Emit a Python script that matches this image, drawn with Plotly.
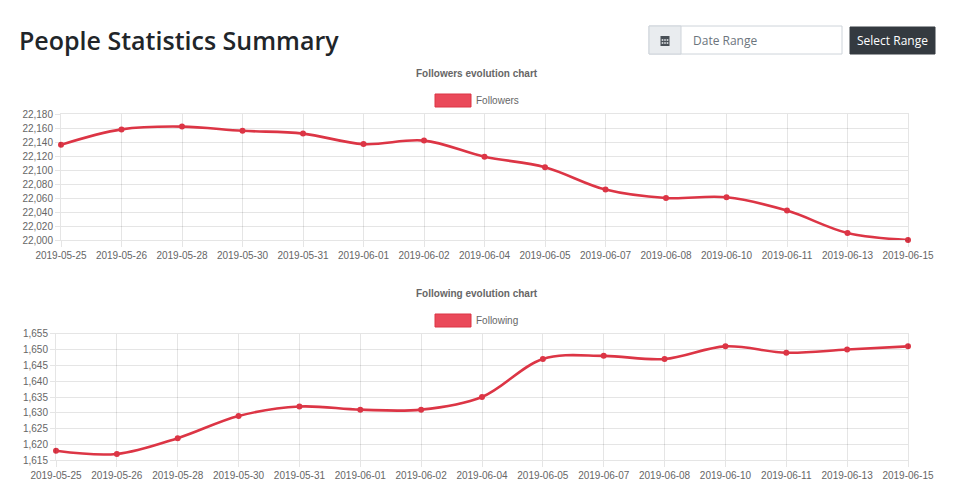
import plotly.graph_objects as go

dates = ["2019-05-25", "2019-05-26", "2019-05-28", "2019-05-30", "2019-05-31",
         "2019-06-01", "2019-06-02", "2019-06-04", "2019-06-05", "2019-06-07",
         "2019-06-08", "2019-06-10", "2019-06-11", "2019-06-13", "2019-06-15"]
followers = [22136, 22158, 22162, 22156, 22152, 22137, 22142, 22119, 22104,
             22072, 22060, 22061, 22042, 22010, 22000]
following = [1618, 1617, 1622, 1629, 1632, 1631, 1631, 1635, 1647, 1648,
             1647, 1651, 1649, 1650, 1651]

W, H = 960, 502
OFF = 8  # page body margin shifts the figure by this much
RED = "#dc3545"
GRID = "rgba(0,0,0,0.1)"
TXT = "#666666"


def px(x):
    return (x - OFF) / W


def py(y):
    return 1 - (y - OFF) / H


fig = go.Figure()
fig.add_trace(go.Scatter(x=dates, y=followers, mode="lines+markers", name="Followers",
                         line=dict(color=RED, width=2.6, shape="spline", smoothing=1.0),
                         marker=dict(color=RED, size=6), cliponaxis=False,
                         xaxis="x", yaxis="y", showlegend=False))
fig.add_trace(go.Scatter(x=dates, y=following, mode="lines+markers", name="Following",
                         line=dict(color=RED, width=2.6, shape="spline", smoothing=1.0),
                         marker=dict(color=RED, size=6), cliponaxis=False,
                         xaxis="x2", yaxis="y2", showlegend=False))

axis_font = dict(family="Liberation Sans, Arial", size=10, color=TXT)
xcommon = dict(type="category", range=[0, len(dates) - 1], showgrid=True, gridcolor=GRID,
               ticks="outside", ticklen=6, tickcolor=GRID, showline=True, linecolor=GRID,
               mirror=True, tickfont=axis_font, zeroline=False, fixedrange=True,
               automargin=False)
ycommon = dict(showgrid=True, gridcolor=GRID, ticks="outside", ticklen=5, tickcolor=GRID,
               showline=True, linecolor=GRID, mirror=True, tickfont=axis_font,
               tickformat=",d", zeroline=False, fixedrange=True, automargin=False)

fig.update_layout(
    width=W, height=H, margin=dict(l=0, r=0, t=0, b=0, autoexpand=False),
    paper_bgcolor="white", plot_bgcolor="white",
    xaxis=dict(xcommon, domain=[px(61), px(908)], anchor="y"),
    yaxis=dict(ycommon, domain=[py(240), py(114)], range=[22000, 22180], dtick=20, anchor="x"),
    xaxis2=dict(xcommon, domain=[px(56), px(908)], anchor="y2"),
    yaxis2=dict(ycommon, domain=[py(460.3), py(333.7)], range=[1615, 1655], dtick=5, anchor="x2"),
)

shapes = []
annos = []

# page header
annos.append(dict(x=px(17), y=py(40), xref="paper", yref="paper", xanchor="left", yanchor="middle",
                  text="People Statistics Summary", showarrow=False,
                  font=dict(family="Open Sans", size=25, color="#212529", weight=600)))
# date range input
shapes.append(dict(type="rect", xref="paper", yref="paper", x0=px(649), x1=px(842), y0=py(54), y1=py(26),
                   fillcolor="white", line=dict(color="#ced4da", width=1)))
shapes.append(dict(type="rect", xref="paper", yref="paper", x0=px(649), x1=px(681), y0=py(54), y1=py(26),
                   fillcolor="#e9ecef", line=dict(color="#ced4da", width=1)))
# calendar icon
shapes.append(dict(type="rect", xref="paper", yref="paper", x0=px(660.5), x1=px(669.5), y0=py(46), y1=py(36),
                   fillcolor="#495057", line=dict(width=0)))
for cx in (662.5, 665, 667.5):
    for cy in (40, 43):
        shapes.append(dict(type="rect", xref="paper", yref="paper", x0=px(cx - 0.8), x1=px(cx + 0.8),
                           y0=py(cy + 0.8), y1=py(cy - 0.8), fillcolor="#e9ecef", line=dict(width=0)))
annos.append(dict(x=px(691), y=py(41), xref="paper", yref="paper", xanchor="left", yanchor="middle",
                  text="Date Range", showarrow=False,
                  font=dict(family="Open Sans", size=12, color="#6c757d")))
# button
shapes.append(dict(type="rect", xref="paper", yref="paper", x0=px(850), x1=px(935), y0=py(54), y1=py(27),
                   fillcolor="#343a40", line=dict(color="#343a40", width=1)))
annos.append(dict(x=px(892.5), y=py(41), xref="paper", yref="paper", xanchor="center", yanchor="middle",
                  text="Select Range", showarrow=False,
                  font=dict(family="Open Sans", size=12, color="white")))

# chart titles and legends
for title, label, ty, ly, lx in [("Followers evolution chart", "Followers", 73, 100.5, 435),
                                 ("Following evolution chart", "Following", 293, 320.5, 435)]:
    annos.append(dict(x=px(477), y=py(ty), xref="paper", yref="paper", xanchor="center", yanchor="middle",
                      text="<b>" + title + "</b>", showarrow=False,
                      font=dict(family="Liberation Sans, Arial", size=10, color=TXT)))
    shapes.append(dict(type="rect", xref="paper", yref="paper", x0=px(lx), x1=px(lx + 36),
                       y0=py(ly + 6.5), y1=py(ly - 6.5), fillcolor="#ea4a5a",
                       line=dict(color=RED, width=1)))
    annos.append(dict(x=px(lx + 39), y=py(ly), xref="paper", yref="paper", xanchor="left", yanchor="middle",
                      text=label, showarrow=False,
                      font=dict(family="Liberation Sans, Arial", size=10, color=TXT)))

fig.update_layout(shapes=shapes, annotations=annos)
fig.write_html("out.html", config=dict(displayModeBar=False))
